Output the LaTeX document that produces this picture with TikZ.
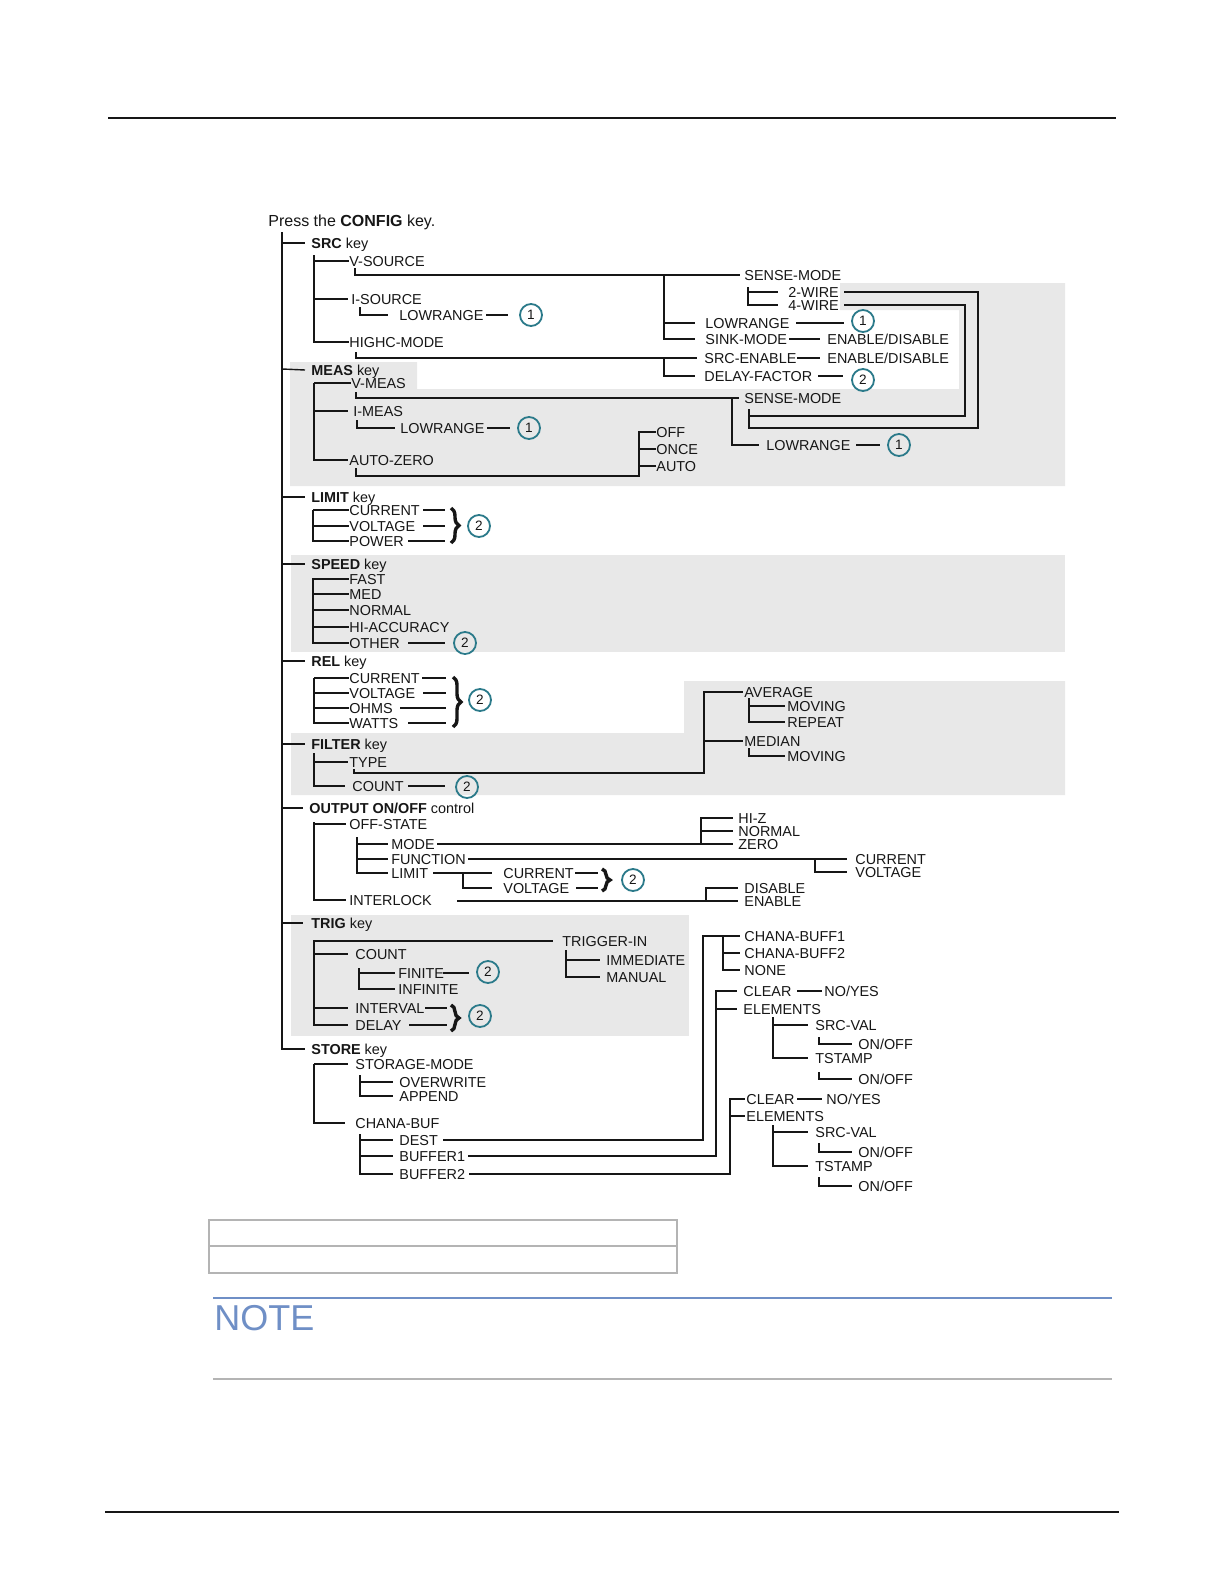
\documentclass[tikz,border=0pt]{standalone}
\usepackage{fontspec}
\setmainfont{Liberation Sans}
\usetikzlibrary{decorations.pathreplacing}
\definecolor{ink}{HTML}{161616}
\definecolor{band}{HTML}{E8E8E8}
\definecolor{ring}{HTML}{2B7A8A}
\definecolor{noteblue}{HTML}{6F8FC6}
\definecolor{rulegray}{HTML}{B4B4B4}
\begin{document}
\begin{tikzpicture}[x=0.5pt,y=-0.5pt,
  lb/.style={anchor=west, inner sep=0pt, text height=5.2pt, text depth=0pt, font=\fontsize{7.2}{8}\selectfont, text=ink},
  num/.style={circle, draw=ring, line width=0.9pt, minimum size=11pt, inner sep=0pt, font=\fontsize{6.8}{7}\selectfont, text=ink},
  ln/.style={draw=ink, line width=0.7pt},
  bln/.style={draw=ink, line width=1pt},
  tr/.style={draw=ink, line width=0.9pt},
  br/.style={draw=ink, line width=1.7pt, decorate, decoration={brace, amplitude=4pt}},
]
\useasboundingbox (0,0) rectangle (1224,1584);
\fill[white] (0,0) rectangle (1224,1584);
% page furniture
\draw[ink, line width=0.8pt] (108,118) -- (1116,118);
\draw[ink, line width=1pt] (105,1512) -- (1119,1512);
\draw[rulegray, line width=0.6pt] (209,1220) rectangle (677,1273);
\draw[rulegray, line width=0.6pt] (209,1246) -- (677,1246);
\draw[noteblue, line width=1pt] (213,1298) -- (1112,1298);
\node[anchor=west, inner sep=0pt, text=noteblue, font=\fontsize{18}{20}\selectfont, text height=12.9pt, text depth=0pt] (note) at (214,1318) {NOTE};
\draw[rulegray, line width=0.6pt] (213,1379) -- (1112,1379);
% gray bands
\fill[band] (840,283) -- (1065,283) -- (1065,486) -- (290,486) -- (290,362) -- (417,362) -- (417,389) -- (959,389) -- (959,310) -- (840,310) -- cycle;
\fill[band] (291,555) rectangle (1065,652);
\fill[band] (684,681) -- (1065,681) -- (1065,795) -- (291,795) -- (291,733) -- (684,733) -- cycle;
\fill[band] (291,915) rectangle (689,1036);
% ---------- nodes
\node[lb, font=\fontsize{8}{9}\selectfont, text height=5.8pt] (press) at (268,221) {Press the \textbf{CONFIG} key.};
% SRC
\node[lb] (src) at (311,243) {\textbf{SRC} key};
\node[lb] (vsrc) at (349,261) {V-SOURCE};
\node[lb] (isrc) at (351,299) {I-SOURCE};
\node[lb] (lr1) at (399,315) {LOWRANGE};
\node[num] (c1) at (531,315) {1};
\node[lb] (highc) at (349,342) {HIGHC-MODE};
\node[lb] (sm1) at (744,275) {SENSE-MODE};
\node[lb] (w2) at (788,292) {2-WIRE};
\node[lb] (w4) at (788,305) {4-WIRE};
\node[lb] (lr2) at (705,323) {LOWRANGE};
\node[num] (c2) at (863,321) {1};
\node[lb] (sink) at (705,339) {SINK-MODE};
\node[lb] (ed1) at (827,339) {ENABLE/DISABLE};
\node[lb] (srcen) at (704,358) {SRC-ENABLE};
\node[lb] (ed2) at (827,358) {ENABLE/DISABLE};
\node[lb] (df) at (704,376) {DELAY-FACTOR};
\node[num] (c3) at (863,380) {2};
% MEAS
\node[lb] (meas) at (311,370) {\textbf{MEAS} key};
\node[lb] (vm) at (351,383) {V-MEAS};
\node[lb] (im) at (353,411) {I-MEAS};
\node[lb] (lr3) at (400,428) {LOWRANGE};
\node[num] (c4) at (529,428) {1};
\node[lb] (az) at (349,460) {AUTO-ZERO};
\node[lb] (off) at (656,432) {OFF};
\node[lb] (once) at (656,449) {ONCE};
\node[lb] (auto) at (656,466) {AUTO};
\node[lb] (sm2) at (744,398) {SENSE-MODE};
\node[lb] (lr4) at (766,445) {LOWRANGE};
\node[num] (c5) at (899,445) {1};
% LIMIT
\node[lb] (lim) at (311,497) {\textbf{LIMIT} key};
\node[lb] (lcur) at (349,510) {CURRENT};
\node[lb] (lvol) at (349,526) {VOLTAGE};
\node[lb] (lpow) at (349,541) {POWER};
\node[num] (c6) at (479,526) {2};
% SPEED
\node[lb] (spd) at (311,564) {\textbf{SPEED} key};
\node[lb] (fast) at (349,579) {FAST};
\node[lb] (med) at (349,594) {MED};
\node[lb] (norm) at (349,610) {NORMAL};
\node[lb] (hiacc) at (349,627) {HI-ACCURACY};
\node[lb] (other) at (349,643) {OTHER};
\node[num] (c7) at (465,643) {2};
% REL
\node[lb] (rel) at (311,661) {\textbf{REL} key};
\node[lb] (rcur) at (349,678) {CURRENT};
\node[lb] (rvol) at (349,693) {VOLTAGE};
\node[lb] (rohm) at (349,708) {OHMS};
\node[lb] (rwat) at (349,723) {WATTS};
\node[num] (c8) at (480,700) {2};
% FILTER
\node[lb] (flt) at (311,744) {\textbf{FILTER} key};
\node[lb] (type) at (349,762) {TYPE};
\node[lb] (fcnt) at (352,786) {COUNT};
\node[num] (c9) at (467,787) {2};
\node[lb] (avg) at (744,692) {AVERAGE};
\node[lb] (mov1) at (787,706) {MOVING};
\node[lb] (rep) at (787,722) {REPEAT};
\node[lb] (med2) at (744,741) {MEDIAN};
\node[lb] (mov2) at (787,756) {MOVING};
% OUTPUT
\node[lb] (out) at (309,808) {\textbf{OUTPUT ON/OFF} control};
\node[lb] (offst) at (349,824) {OFF-STATE};
\node[lb] (mode) at (391,844) {MODE};
\node[lb] (func) at (391,859) {FUNCTION};
\node[lb] (olim) at (391,873) {LIMIT};
\node[lb] (ocur) at (503,873) {CURRENT};
\node[lb] (ovol) at (503,888) {VOLTAGE};
\node[num] (c10) at (633,880) {2};
\node[lb] (intl) at (349,900) {INTERLOCK};
\node[lb] (hiz) at (738,818) {HI-Z};
\node[lb] (onorm) at (738,831) {NORMAL};
\node[lb] (zero) at (738,844) {ZERO};
\node[lb] (fcur) at (855,859) {CURRENT};
\node[lb] (fvol) at (855,872) {VOLTAGE};
\node[lb] (dis) at (744,888) {DISABLE};
\node[lb] (ena) at (744,901) {ENABLE};
% TRIG
\node[lb] (trig) at (311,923) {\textbf{TRIG} key};
\node[lb] (tin) at (562,941) {TRIGGER-IN};
\node[lb] (imm) at (606,960) {IMMEDIATE};
\node[lb] (man) at (606,977) {MANUAL};
\node[lb] (tcnt) at (355,954) {COUNT};
\node[lb] (fin) at (398,973) {FINITE};
\node[num] (c11) at (488,972) {2};
\node[lb] (inf) at (398,989) {INFINITE};
\node[lb] (intv) at (355,1008) {INTERVAL};
\node[lb] (tdel) at (355,1025) {DELAY};
\node[num] (c12) at (480,1016) {2};
% STORE
\node[lb] (store) at (311,1049) {\textbf{STORE} key};
\node[lb] (smode) at (355,1064) {STORAGE-MODE};
\node[lb] (ovw) at (399,1082) {OVERWRITE};
\node[lb] (app) at (399,1096) {APPEND};
\node[lb] (cbuf) at (355,1123) {CHANA-BUF};
\node[lb] (dest) at (399,1140) {DEST};
\node[lb] (b1) at (399,1156) {BUFFER1};
\node[lb] (b2) at (399,1174) {BUFFER2};
\node[lb] (cb1) at (744,936) {CHANA-BUFF1};
\node[lb] (cb2) at (744,953) {CHANA-BUFF2};
\node[lb] (none) at (744,970) {NONE};
\node[lb] (clr1) at (743,991) {CLEAR};
\node[lb] (ny1) at (824,991) {NO/YES};
\node[lb] (el1) at (743,1009) {ELEMENTS};
\node[lb] (sv1) at (815,1025) {SRC-VAL};
\node[lb] (oo1) at (858,1044) {ON/OFF};
\node[lb] (ts1) at (815,1058) {TSTAMP};
\node[lb] (oo2) at (858,1079) {ON/OFF};
\node[lb] (clr2) at (746,1099) {CLEAR};
\node[lb] (ny2) at (826,1099) {NO/YES};
\node[lb] (el2) at (746,1116) {ELEMENTS};
\node[lb] (sv2) at (815,1132) {SRC-VAL};
\node[lb] (oo3) at (858,1152) {ON/OFF};
\node[lb] (ts2) at (815,1166) {TSTAMP};
\node[lb] (oo4) at (858,1186) {ON/OFF};
% ---------- connectors
\draw[tr] (282,232) |- ([xshift=-3pt]store.west);
% SRC
\draw[ln] (282,243) -- ([xshift=-3pt]src.west);
\draw[ln] (314,255) -- (314,342) -- (highc.west);
\draw[ln] (314,261) -- (vsrc.west);
\draw[ln] (314,299) -- ([xshift=-1.5pt]isrc.west);
\draw[ln] (360,307) |- ([xshift=-5.5pt]lr1.west);
\draw[ln] (486,315) -- (508,315);
\draw[ln] (355,268) |- ([xshift=-2pt]sm1.west);
\draw[ln] (664,275) |- ([xshift=-5pt]sink.west);
\draw[ln] (664,323) -- ([xshift=-5pt]lr2.west);
\draw[ln] (748,287) |- ([xshift=-5pt]w4.west);
\draw[ln] (748,292) -- ([xshift=-5pt]w2.west);
\draw[ln] (356,352) |- ([xshift=-3.5pt]srcen.west);
\draw[ln] (664,358) |- ([xshift=-4.5pt]df.west);
\draw[ln] (796,323) -- (844,323);
\draw[ln] (789,339) -- (820,339);
\draw[ln] (797,358) -- (820,358);
\draw[ln] (818,376) -- (843,376);
\draw[bln] (844,292) -- (978,292) -- (978,428) -- (749,428) -- (749,409);
\draw[bln] (844,305) -- (965,305) -- (965,416) -- (749,416);
% MEAS
\draw[ln] (282,369) -- ([xshift=-3pt]meas.west);
\draw[ln] (314,383) -- (314,460) -- ([xshift=-0.5pt]az.west);
\draw[ln] (314,383) -- (vm.west);
\draw[ln] (314,411) -- ([xshift=-2.5pt]im.west);
\draw[ln] (357,420) |- ([xshift=-2.5pt]lr3.west);
\draw[ln] (487,428) -- (510,428);
\draw[ln] (356,468) |- (639,476) |- (off.west);
\draw[ln] (639,449) -- (once.west);
\draw[ln] (639,466) -- (auto.west);
\draw[ln] (356,392) |- ([xshift=-2.5pt]sm2.west);
\draw[ln] (732,398) |- ([xshift=-3.5pt]lr4.west);
\draw[ln] (856,445) -- (880,445);
% LIMIT
\draw[ln] (282,497) -- ([xshift=-3pt]lim.west);
\draw[ln] (313,510) -- (313,541) -- (lpow.west);
\draw[ln] (313,510) -- (lcur.west);
\draw[ln] (313,526) -- (lvol.west);
\draw[bln] (423,510) -- (445,510);
\draw[bln] (423,526) -- (445,526);
\draw[bln] (408,541) -- (445,541);
\draw[br] (451,508) -- (451,543);
% SPEED
\draw[ln] (282,564) -- ([xshift=-3pt]spd.west);
\draw[ln] (313,578) -- (313,643) -- (other.west);
\draw[ln] (313,579) -- (fast.west);
\draw[ln] (313,594) -- (med.west);
\draw[ln] (313,610) -- (norm.west);
\draw[ln] (313,627) -- (hiacc.west);
\draw[ln] (408,643) -- (445,643);
% REL
\draw[ln] (282,661) -- ([xshift=-3pt]rel.west);
\draw[ln] (314,678) -- (314,723) -- (rwat.west);
\draw[ln] (314,678) -- (rcur.west);
\draw[ln] (314,693) -- (rvol.west);
\draw[ln] (314,708) -- (rohm.west);
\draw[bln] (422,678) -- (446,678);
\draw[bln] (423,693) -- (446,693);
\draw[bln] (400,708) -- (446,708);
\draw[bln] (408,723) -- (446,723);
\draw[br] (453,677) -- (453,727);
% FILTER
\draw[ln] (282,744) -- ([xshift=-3pt]flt.west);
\draw[ln] (314,753) -- (314,786) -- ([xshift=-3.5pt]fcnt.west);
\draw[ln] (314,762) -- ([xshift=-0.5pt]type.west);
\draw[ln] (354,769) |- (704,773) |- ([xshift=-0.5pt]avg.west);
\draw[ln] (704,741) -- ([xshift=-0.5pt]med2.west);
\draw[ln] (749,698) |- ([xshift=-1pt]rep.west);
\draw[ln] (749,706) -- ([xshift=-1pt]mov1.west);
\draw[ln] (749,748) |- ([xshift=-1pt]mov2.west);
\draw[ln] (408,786) -- (445,786);
% OUTPUT
\draw[ln] (282,808) -- ([xshift=-3pt]out.west);
\draw[ln] (314,822) -- (314,900) -- ([xshift=-1.5pt]intl.west);
\draw[ln] (314,824) -- ([xshift=-1.5pt]offst.west);
\draw[ln] (357,837) -- (357,873) -- ([xshift=-1.5pt]olim.west);
\draw[ln] (357,844) -- ([xshift=-1.5pt]mode.west);
\draw[ln] (357,859) -- ([xshift=-1.5pt]func.west);
\draw[bln] (437,844) -- ([xshift=-2.5pt]zero.west);
\draw[bln] (701,844) -- (701,818) -- ([xshift=-2.5pt]hiz.west);
\draw[bln] (701,831) -- ([xshift=-2.5pt]onorm.west);
\draw[ln] (468,859) -- ([xshift=-4pt]fcur.west);
\draw[ln] (815,859) |- ([xshift=-4pt]fvol.west);
\draw[ln] (433,873) -- ([xshift=-5.5pt]ocur.west);
\draw[ln] (463,873) |- ([xshift=-5.5pt]ovol.west);
\draw[bln] (575,873) -- (598,873);
\draw[bln] (576,888) -- (598,888);
\draw[br] (602,869) -- (602,891);
\draw[bln] (457,901) -- ([xshift=-3pt]ena.west);
\draw[bln] (706,901) |- ([xshift=-3pt]dis.west);
% TRIG
\draw[ln] (282,923) -- ([xshift=-4pt]trig.west);
\draw[ln] (314,940) -- (314,1025) -- ([xshift=-3.5pt]tdel.west);
\draw[ln] (314,940) |- ([xshift=-4.5pt]tin.west);
\draw[ln] (566,950) |- ([xshift=-3pt]man.west);
\draw[ln] (566,960) -- ([xshift=-3pt]imm.west);
\draw[ln] (314,954) -- ([xshift=-3.5pt]tcnt.west);
\draw[ln] (359,968) |- ([xshift=-1.5pt]inf.west);
\draw[ln] (359,973) -- ([xshift=-1.5pt]fin.west);
\draw[ln] (443,973) -- (469,973);
\draw[ln] (314,1008) -- ([xshift=-3.5pt]intv.west);
\draw[bln] (425,1008) -- (447,1008);
\draw[bln] (409,1025) -- (447,1025);
\draw[br] (451,1005) -- (451,1031);
% STORE
\draw[ln] (314,1064) -- (314,1123) -- ([xshift=-5pt]cbuf.west);
\draw[ln] (314,1064) -- ([xshift=-3.5pt]smode.west);
\draw[ln] (360,1075) |- ([xshift=-3pt]app.west);
\draw[ln] (360,1082) -- ([xshift=-3pt]ovw.west);
\draw[ln] (360,1134) |- ([xshift=-3pt]b2.west);
\draw[ln] (360,1140) -- ([xshift=-3pt]dest.west);
\draw[ln] (360,1156) -- ([xshift=-3pt]b1.west);
\draw[bln] (443,1140) -| (703,936) -- ([xshift=-2pt]cb1.west);
\draw[ln] (723,936) |- ([xshift=-2pt]none.west);
\draw[ln] (723,953) -- ([xshift=-2pt]cb2.west);
\draw[bln] (468,1156) -| (716,991) -- ([xshift=-3pt]clr1.west);
\draw[ln] (716,1009) -- ([xshift=-3pt]el1.west);
\draw[ln] (797,991) -- (822,991);
\draw[ln] (773,1017) |- ([xshift=-3.5pt]ts1.west);
\draw[ln] (773,1025) -- ([xshift=-3.5pt]sv1.west);
\draw[ln] (819,1037) |- ([xshift=-3pt]oo1.west);
\draw[ln] (819,1072) |- ([xshift=-3pt]oo2.west);
\draw[bln] (469,1174) -| (730,1099) -- ([xshift=-0.5pt]clr2.west);
\draw[ln] (730,1116) -- ([xshift=-0.5pt]el2.west);
\draw[ln] (797,1099) -- (822,1099);
\draw[ln] (773,1125) |- ([xshift=-3.5pt]ts2.west);
\draw[ln] (773,1132) -- ([xshift=-3.5pt]sv2.west);
\draw[ln] (819,1143) |- ([xshift=-3pt]oo3.west);
\draw[ln] (819,1177) |- ([xshift=-3pt]oo4.west);
\end{tikzpicture}
\end{document}
